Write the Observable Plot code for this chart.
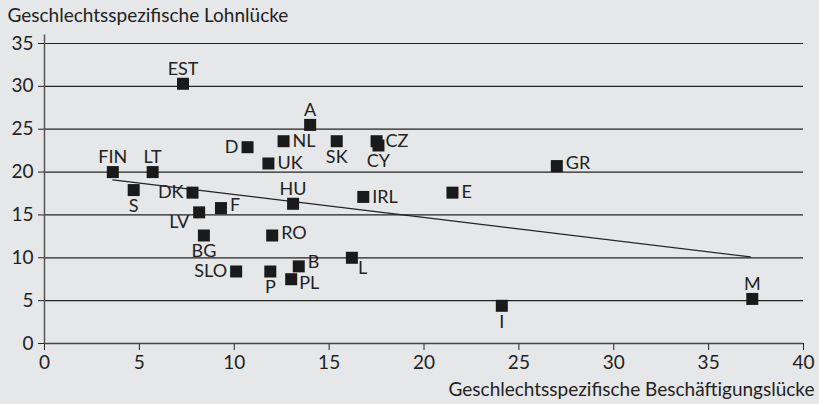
<!DOCTYPE html>
<html>
<head>
<meta charset="utf-8">
<script src="https://cdn.jsdelivr.net/npm/d3@7"></script>
<script src="https://cdn.jsdelivr.net/npm/@observablehq/plot@0.6"></script>
<style>
  html, body { margin: 0; padding: 0; background: #e6e7e8; }
</style>
</head>
<body>
<div id="chart"></div>
<script>
const countries = ["EST","A","D","NL","UK","SK","CZ","CY","FIN","LT","S","DK","HU","IRL","LV","F","BG","RO","L","B","SLO","P","PL","GR","E","I","M"];
const employmentGap = [7.3,14.0,10.7,12.6,11.8,15.4,17.5,17.6,3.6,5.7,4.7,7.8,13.1,16.8,8.15,9.3,8.4,12.0,16.2,13.4,10.1,11.9,13.0,27.0,21.5,24.1,37.3];
const payGap = [30.3,25.5,22.9,23.6,21.0,23.6,23.6,23.1,20.0,20.0,17.9,17.6,16.3,17.1,15.3,15.8,12.6,12.6,10.0,9.0,8.4,8.4,7.5,20.7,17.6,4.4,5.2];
const labelSide = ["top","top","left","right","right","bottom","right","bottom","top","top","bottom","left","top","right","bottom-left","right-up","bottom","right-up","bottom-right","right-up2","left","bottom","right-down","right-up","right","bottom","top"];
const trendX = [3.6, 37.2];
const trendY = [19.1, 10.1];
const xTicks = [0,5,10,15,20,25,30,35,40];
const yTicks = [0,5,10,15,20,25,30,35];
const yTitle = "Geschlechtsspezifische Lohnlücke";
const xTitle = "Geschlechtsspezifische Beschäftigungslücke";

const data = countries.map((c, i) => ({c, x: employmentGap[i], y: payGap[i], side: labelSide[i]}));
const trend = trendX.map((x, i) => ({x, y: trendY[i]}));

const sideStyle = {
  "top": {dx: 0, dy: -9, textAnchor: "middle", lineAnchor: "bottom"},
  "bottom": {dx: 0, dy: 9, textAnchor: "middle", lineAnchor: "top"},
  "right": {dx: 9, dy: 0, textAnchor: "start", lineAnchor: "middle"},
  "right-up": {dx: 9, dy: -2.5, textAnchor: "start", lineAnchor: "middle"},
  "right-up2": {dx: 9, dy: -4, textAnchor: "start", lineAnchor: "middle"},
  "right-down": {dx: 8, dy: 4, textAnchor: "start", lineAnchor: "middle"},
  "left": {dx: -9, dy: 0, textAnchor: "end", lineAnchor: "middle"},
  "bottom-left": {dx: -10, dy: 10, textAnchor: "end", lineAnchor: "middle"},
  "bottom-right": {dx: 6, dy: 10, textAnchor: "start", lineAnchor: "middle"}
};

const labelMarks = Object.entries(sideStyle).map(([side, s]) =>
  Plot.text(data.filter(d => d.side === side), {x: "x", y: "y", text: "c", fill: "#222", fontSize: 18, ...s})
);

const chart = Plot.plot({
  width: 819,
  height: 404,
  marginLeft: 44,
  marginRight: 16,
  marginTop: 43,
  marginBottom: 61,
  style: {background: "#e6e7e8", fontFamily: "Lato, sans-serif", fontSize: "19px", color: "#222"},
  x: {domain: [0, 40], ticks: xTicks, tickSize: 7, tickPadding: 5, label: null},
  y: {domain: [0, 35], ticks: yTicks, tickSize: 6, tickPadding: 5, label: null},
  marks: [
    Plot.ruleY(yTicks.filter(d => d > 0), {stroke: "#222", strokeWidth: 1.2}),
    Plot.ruleY([0], {stroke: "#444", strokeWidth: 1.5}),
    Plot.ruleX([0], {y1: 0, y2: 36, stroke: "#555", strokeWidth: 1.5}),
    Plot.line(trend, {x: "x", y: "y", stroke: "#222", strokeWidth: 1.2}),
    Plot.dot(data, {x: "x", y: "y", symbol: "square", r: 6.77, fill: "#1a1a1a", stroke: null}),
    ...labelMarks,
    Plot.text([yTitle], {frameAnchor: "top-left", dx: -37, dy: -22, textAnchor: "start", lineAnchor: "bottom", fill: "#222", fontSize: 19}),
    Plot.text([xTitle], {frameAnchor: "bottom-right", dx: 11, dy: 52, textAnchor: "end", lineAnchor: "bottom", fill: "#222", fontSize: 19})
  ]
});
document.getElementById("chart").appendChild(chart);
</script>
</body>
</html>
